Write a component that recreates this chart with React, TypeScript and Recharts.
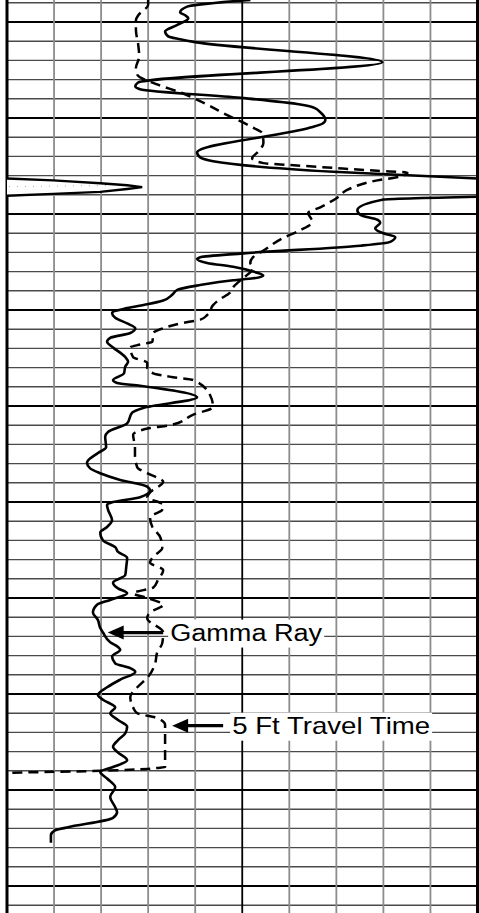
import React from 'react';
import { ScatterChart, Scatter, XAxis, YAxis, ReferenceLine, ReferenceDot } from 'recharts';

document.body.style.margin = '0';
document.body.style.background = '#fff';

// depth (ft), gamma ray (API) — main trace above the backup wrap
const gammaUpper: [number, number][] = [
  [4807.7, 77.6], [4808.4, 57.4], [4809.0, 55.2], [4809.3, 56.8], [4809.6, 57.8],
  [4810.3, 54.3], [4811.0, 50.4], [4811.5, 51.4], [4811.8, 55.2], [4812.1, 60.0],
  [4814.2, 119.7], [4816.3, 41.8], [4816.7, 40.9], [4817.0, 42.4], [4817.9, 74.4],
  [4818.6, 93.5], [4818.9, 97.7], [4819.4, 99.9], [4820.2, 101.5], [4820.6, 100.5],
  [4821.0, 96.7], [4823.6, 60.6], [4824.1, 61.6], [4824.5, 65.7], [4825.6, 104.0],
  [4826.3, 150.0],
];

// off-scale readings, drawn on the backup (wrapped) scale
const gammaWrap: [number, number][] = [
  [4826.3, 150.0], [4826.5, 164.7], [4826.8, 179.7], [4827.0, 188.3], [4827.2, 193.1],
  [4827.4, 188.3], [4827.7, 179.7], [4827.9, 164.7], [4828.1, 150.0],
];

const gammaLower: [number, number][] = [
  [4828.2, 150.0], [4828.5, 120.0], [4829.6, 111.7], [4830.1, 112.7], [4830.6, 118.1],
  [4830.9, 119.0], [4831.5, 117.4], [4832.0, 120.0], [4832.4, 123.8], [4832.9, 122.2],
  [4833.3, 112.7], [4834.1, 75.3], [4834.5, 61.6], [4834.7, 60.6], [4835.1, 63.8],
  [4835.5, 72.1], [4836.0, 78.5], [4836.4, 81.7], [4836.7, 78.5], [4836.9, 72.1],
  [4837.4, 61.6], [4837.9, 54.3], [4838.4, 52.7], [4839.0, 49.8], [4839.4, 44.7],
  [4839.8, 38.3], [4840.3, 33.5], [4840.8, 34.5], [4841.4, 38.3], [4841.9, 40.9],
  [4842.4, 39.3], [4842.9, 32.9], [4843.3, 31.9], [4843.9, 33.8], [4844.9, 37.7],
  [4845.4, 38.6], [4845.9, 37.7], [4846.6, 37.3], [4847.3, 33.8], [4847.6, 35.1],
  [4847.9, 42.4], [4849.1, 60.6], [4850.2, 43.4], [4850.7, 39.9], [4851.8, 38.3],
  [4852.7, 32.2], [4853.2, 31.3], [4854.3, 31.6], [4854.9, 29.0], [4855.9, 25.5],
  [4856.5, 26.5], [4857.0, 29.7], [4857.7, 36.1], [4858.4, 44.7], [4858.8, 45.6],
  [4859.5, 42.4], [4860.0, 33.8], [4860.3, 31.9], [4860.8, 32.2], [4861.9, 33.5],
  [4862.6, 31.9], [4863.2, 29.7], [4864.0, 30.6], [4864.7, 34.5], [4865.2, 35.4],
  [4865.8, 38.3], [4866.8, 38.0], [4867.6, 37.7], [4868.4, 33.8], [4869.0, 35.4],
  [4869.5, 38.3], [4870.2, 32.9], [4870.7, 28.7], [4871.5, 27.4], [4872.3, 29.0],
  [4873.1, 29.7], [4873.6, 30.6], [4874.6, 32.9], [4875.1, 35.4], [4875.4, 36.1],
  [4876.1, 33.5], [4876.8, 34.5], [4877.3, 39.3], [4877.7, 40.9], [4878.5, 36.1],
  [4879.3, 31.9], [4880.1, 29.0], [4880.6, 30.6], [4881.4, 34.5], [4882.0, 32.9],
  [4882.7, 35.4], [4883.4, 38.3], [4884.1, 37.7], [4884.8, 35.4], [4885.5, 33.8],
  [4886.1, 35.4], [4886.9, 38.3], [4887.6, 33.8], [4888.1, 29.7], [4888.8, 31.9],
  [4889.7, 34.5], [4890.7, 32.9], [4891.8, 34.5], [4892.3, 35.1], [4892.9, 33.8],
  [4893.9, 19.1], [4894.2, 15.3], [4894.7, 14.0], [4895.5, 14.0],
];

// depth (ft), 5 ft travel time (us/ft)
const travelTime: [number, number][] = [
  [4807.7, 110.0], [4808.2, 110.0], [4809.3, 112.1], [4809.8, 112.6], [4810.8, 112.6],
  [4812.4, 112.1], [4813.6, 111.9], [4814.8, 112.6], [4815.5, 112.3], [4816.5, 108.1],
  [4817.4, 102.8], [4818.4, 98.3], [4819.7, 93.2], [4821.0, 87.7], [4821.6, 85.7],
  [4822.6, 85.5], [4823.5, 86.6], [4824.2, 87.9], [4824.7, 85.5], [4824.9, 79.8],
  [4825.2, 70.6], [4825.5, 61.3], [4825.7, 54.9], [4826.1, 56.4], [4826.5, 61.3],
  [4827.5, 67.7], [4828.3, 69.8], [4829.3, 73.4], [4829.9, 76.0], [4830.8, 75.1],
  [4831.7, 77.7], [4832.5, 81.3], [4833.8, 85.5], [4834.5, 87.7], [4835.1, 88.3],
  [4835.6, 87.7], [4836.9, 90.4], [4837.6, 91.9], [4838.2, 92.6], [4839.0, 95.1],
  [4839.5, 96.2], [4840.5, 97.4], [4841.0, 98.9], [4841.4, 103.2], [4841.9, 106.8],
  [4842.4, 108.9], [4843.3, 109.1], [4843.6, 111.7], [4843.9, 113.8], [4844.9, 113.2],
  [4845.5, 110.2], [4846.0, 110.2], [4846.6, 108.9], [4847.0, 104.7], [4847.3, 100.4],
  [4848.9, 96.8], [4850.1, 96.2], [4850.9, 100.4], [4852.0, 105.3], [4852.3, 109.6],
  [4853.0, 113.2], [4854.3, 112.8], [4855.1, 112.8], [4856.4, 112.3], [4857.0, 110.2],
  [4857.9, 106.8], [4859.0, 109.6], [4859.5, 110.2], [4860.3, 106.8], [4860.8, 107.0],
  [4861.6, 109.6], [4862.6, 109.1], [4863.7, 107.4], [4864.8, 107.0], [4865.7, 108.9],
  [4866.3, 109.6], [4867.1, 106.8], [4868.1, 107.9], [4868.9, 108.9], [4869.5, 113.2],
  [4870.0, 110.2], [4870.7, 106.8], [4871.5, 109.6], [4872.1, 110.2], [4873.6, 106.8],
  [4874.7, 107.0], [4875.7, 108.1], [4876.8, 108.5], [4878.2, 110.0], [4879.3, 112.3],
  [4880.3, 113.8], [4881.4, 113.2], [4882.0, 112.3], [4882.5, 108.1], [4883.2, 106.4],
  [4884.1, 106.4], [4887.6, 106.4], [4887.7, 108.1], [4887.8, 110.2], [4888.0, 120.2],
  [4888.2, 140.0],
];

// grid: 2 ft minor / 10 ft major lines, 15 API per track division
const depthTicks = Array.from({ length: 48 }, (_, i) => 4808 + i * 2);
const gammaTicks = [0, 15, 30, 45, 60, 75, 90, 105, 120, 135, 150];

const toPts = (rows: [number, number][], offset = 0) =>
  rows.map(([d, v]) => ({ x: v - offset, y: d }));

const noDot = () => <g />;

function SpikeFill(props: any) {
  const pts = props.points || [];
  if (!pts.length) return <g />;
  const d = pts.map((p: any, i: number) => `${i ? 'L' : 'M'}${p.x},${p.y}`).join(' ');
  const mid = pts[Math.floor(pts.length / 2)];
  return (
    <g>
      <path d={d} fill="#fff" stroke="none" />
      <line x1={pts[0].x + 2} y1={(pts[0].y + pts[pts.length - 1].y) / 2 - 0.5} x2={mid.x - 35} y2={mid.y - 1.5}
        stroke="#aaa" strokeWidth={1} strokeDasharray="1 7" />
      <path d={d} fill="none" stroke="#000" strokeWidth={2.4} />
    </g>
  );
}

function ArrowLabel({ cx, cy, text, shaft, gap, size, length, dy }: any) {
  const tx = cx + shaft + gap;
  return (
    <g>
      <rect x={tx - 2} y={cy - 13} width={length + 4} height={28} fill="#fff" />
      <polygon points={`${cx},${cy} ${cx + 16},${cy - 7} ${cx + 16},${cy + 7}`} fill="#000" />
      <line x1={cx + 14} y1={cy} x2={cx + shaft} y2={cy} stroke="#000" strokeWidth={3.2} />
      <text x={tx} y={cy + dy} fontSize={size} textLength={length} lengthAdjust="spacingAndGlyphs"
        fontFamily="'Liberation Sans', Arial, sans-serif" fill="#000">
        {text}
      </text>
    </g>
  );
}

export default function App() {
  return (
    <div style={{ width: 479, height: 913, background: '#fff' }}>
      <ScatterChart width={479} height={913} margin={{ top: 0, right: 1.5, bottom: 0, left: 7 }}>
        <XAxis xAxisId="gr" type="number" dataKey="x" domain={[0, 150]} hide allowDataOverflow />
        <XAxis xAxisId="dt" type="number" dataKey="x" domain={[40, 140]} reversed hide allowDataOverflow />
        <YAxis yAxisId="d" type="number" dataKey="y" domain={[4807.71, 4902.81]} reversed hide allowDataOverflow />

        {depthTicks.map((d) => (
          <ReferenceLine key={`h${d}`} xAxisId="gr" yAxisId="d" y={d}
            stroke={d % 10 === 0 ? '#000' : '#4a4a4a'} strokeWidth={d % 10 === 0 ? 2.2 : 1.4} />
        ))}
        {gammaTicks.map((g) => (
          <ReferenceLine key={`v${g}`} xAxisId="gr" yAxisId="d" x={g}
            stroke={g === 75 || g === 0 || g === 150 ? '#000' : '#8c8c8c'}
            strokeWidth={g === 0 || g === 150 ? 3 : 1.8} />
        ))}

        <Scatter xAxisId="gr" yAxisId="d" data={toPts(gammaWrap, 150)} fill="#000" shape={noDot}
          line={SpikeFill} lineJointType="linear" isAnimationActive={false} />
        <Scatter xAxisId="dt" yAxisId="d" data={toPts(travelTime)} fill="#000" shape={noDot}
          line={{ stroke: '#000', strokeWidth: 2.5, strokeDasharray: '10 6' }}
          lineJointType="monotoneY" isAnimationActive={false} />
        <Scatter xAxisId="gr" yAxisId="d" data={toPts(gammaUpper)} fill="#000" shape={noDot}
          line={{ stroke: '#000', strokeWidth: 2.6 }} lineJointType="monotoneY" isAnimationActive={false} />
        <Scatter xAxisId="gr" yAxisId="d" data={toPts(gammaLower)} fill="#000" shape={noDot}
          line={{ stroke: '#000', strokeWidth: 2.6 }} lineJointType="monotoneY" isAnimationActive={false} />

        <ReferenceDot xAxisId="gr" yAxisId="d" x={32.1} y={4873.6} r={0}
          shape={(p: any) => (
            <ArrowLabel cx={p.cx} cy={p.cy} text="Gamma Ray" shaft={55.5} gap={7} size={23} length={152} dy={8.5} />
          )} />
        <ReferenceDot xAxisId="dt" yAxisId="d" x={104.9} y={4883.3} r={0}
          shape={(p: any) => (
            <ArrowLabel cx={p.cx} cy={p.cy} text="5 Ft Travel Time" shaft={51} gap={9} size={24} length={198} dy={8.5} />
          )} />
      </ScatterChart>
    </div>
  );
}
